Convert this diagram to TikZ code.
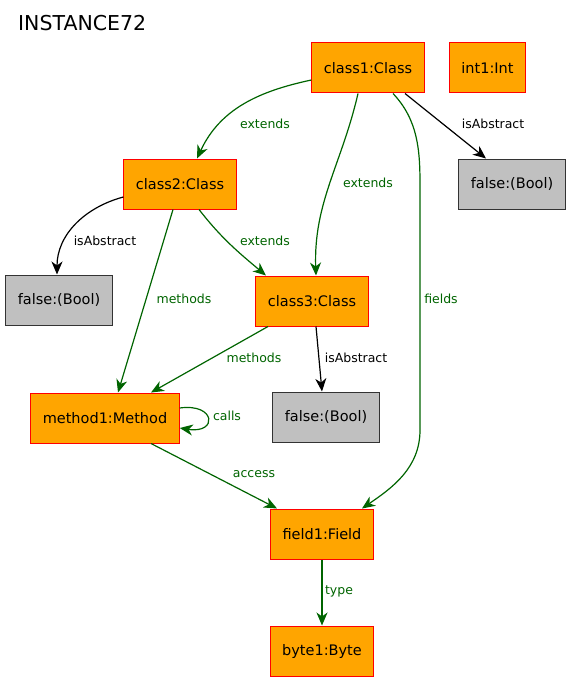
\documentclass[tikz,border=0pt]{standalone}
\usepackage{fontspec}
\setmainfont{DejaVu Sans}
\usetikzlibrary{arrows.meta}
\definecolor{objfill}{HTML}{FFA500}
\definecolor{valfill}{HTML}{C0C0C0}
\definecolor{reledge}{HTML}{006400}
\def\Lw{1.2pt}
\tikzset{
    objbox/.style={
        draw=red, fill=objfill, line width=1pt,
        minimum height=50pt, inner xsep=12pt,
        font=\fontsize{14.5}{17}\selectfont
    },
    valbox/.style={
        objbox, draw=black!80, fill=valfill
    },
    rel/.style={
        draw=reledge, line width=\Lw,
        -{Stealth[length=13pt,width=11pt,inset=4pt]}
    },
    attr/.style={rel, draw=black},
    rellabel/.style={
        text=reledge, inner sep=1pt,
        font=\fontsize{12.5}{14}\selectfont
    },
    attrlabel/.style={rellabel, text=black}
}

\begin{document}
\begin{tikzpicture}[x=1pt, y=-1pt]
    \useasboundingbox (0,0) rectangle (572,682);
    \node[anchor=west, inner sep=0pt, font=\fontsize{20.5}{24}\selectfont] (title) at (18,23) {INSTANCE72};

    % objects
    \node[objbox] (class1) at (368,68) {class1:Class};
    \node[objbox] (int1) at (487.5,68) {int1:Int};
    \node[objbox] (class2) at (180,184) {class2:Class};
    \node[objbox] (class3) at (312,301) {class3:Class};
    \node[objbox] (method1) at (105,418) {method1:Method};
    \node[objbox] (field1) at (322,534) {field1:Field};
    \node[objbox] (byte1) at (322,651) {byte1:Byte};

    % boolean values
    \node[valbox] (falseA) at (512,184) {false:(Bool)};
    \node[valbox] (falseB) at (59,300) {false:(Bool)};
    \node[valbox] (falseC) at (326,417) {false:(Bool)};

    % relations
    \draw[rel] ([yshift=-12pt]class1.west) to[out=192, in=65] ([xshift=17pt]class2.north);
    \draw[rel] ([xshift=-10pt]class1.south) to[out=-103, in=92] ([xshift=4pt]class3.north);
    \draw[rel] ([xshift=25pt]class1.south) .. controls (418,120) and (420,150) .. (420,185)
        -- (420,430) .. controls (420,468) and (392,488) .. ([xshift=40pt]field1.north);
    \draw[rel] ([xshift=-7pt]class2.south) -- ([xshift=13pt]method1.north);
    \draw[rel] ([xshift=19pt]class2.south) to[out=-52, in=140] ([xshift=-46pt]class3.north);
    \draw[rel] ([xshift=-44pt]class3.south) -- ([xshift=46pt]method1.north);
    \draw[rel] ([yshift=10pt]method1.east) .. controls (216,403) and (218,434) .. ([yshift=-10pt]method1.east);
    \draw[rel] ([xshift=46pt]method1.south) -- ([xshift=-45pt]field1.north);
    \draw[rel] (field1) -- (byte1);

    \draw[attr] ([xshift=37pt]class1.south) -- ([xshift=-26pt]falseA.north);
    \draw[attr] ([yshift=-13pt]class2.west) to[out=195, in=90] ([xshift=-2pt]falseB.north);
    \draw[attr] ([xshift=4pt]class3.south) -- ([xshift=-4pt]falseC.north);

    % labels
    \node[rellabel] (lext1) at (265,124) {extends};
    \node[rellabel] (lext2) at (368,183) {extends};
    \node[rellabel] (lext3) at (265,241) {extends};
    \node[rellabel] (lfields) at (441,299) {fields};
    \node[rellabel] (lmeth1) at (184,299) {methods};
    \node[rellabel] (lmeth2) at (254,358) {methods};
    \node[rellabel] (lcalls) at (227,416) {calls};
    \node[rellabel] (laccess) at (254,474) {access};
    \node[rellabel] (ltype) at (339,591) {type};
    \node[attrlabel] (labs1) at (493,124) {isAbstract};
    \node[attrlabel] (labs2) at (105,241) {isAbstract};
    \node[attrlabel] (labs3) at (356,358) {isAbstract};
\end{tikzpicture}
\end{document}
